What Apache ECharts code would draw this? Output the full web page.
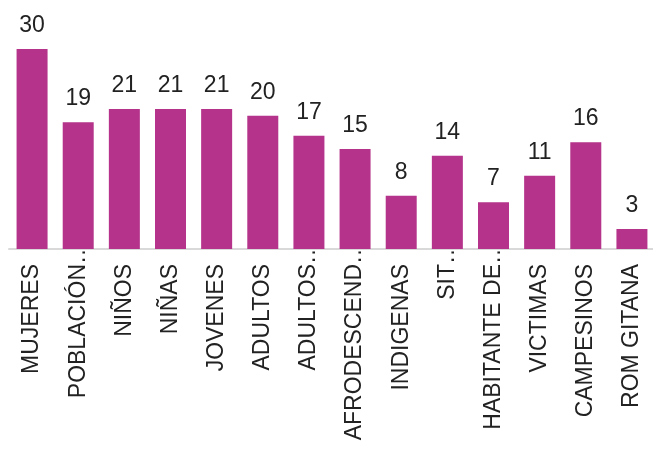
<!DOCTYPE html>
<html>
<head>
<meta charset="utf-8">
<script src="https://cdn.jsdelivr.net/npm/echarts@6/dist/echarts.min.js"></script>
<style>html,body{margin:0;padding:0;background:#fff;overflow:hidden;}#c{width:658px;height:451px;}</style>
</head>
<body>
<div id="c"></div>
<script>
var categories = ["MUJERES","POBLACIÓN…","NIÑOS","NIÑAS","JOVENES","ADULTOS","ADULTOS…","AFRODESCEND…","INDIGENAS","SIT…","HABITANTE DE…","VICTIMAS","CAMPESINOS","ROM GITANA"];
var values = [30,19,21,21,21,20,17,15,8,14,7,11,16,3];

var FONT = "'Liberation Sans', Arial, sans-serif";
var chart = echarts.init(document.getElementById('c'));
chart.setOption({
  animation: false,
  grid: {left: 9, width: 646, top: 49, height: 200, containLabel: false},
  xAxis: {
    type: 'category',
    data: categories,
    axisLine: {show: true, lineStyle: {color: '#d9d9d9', width: 2}},
    axisTick: {show: false},
    axisLabel: {
      rotate: 90,
      interval: 0,
      margin: -8,
      color: '#222222',
      fontFamily: FONT,
      fontSize: 23,
      formatter: function (v) {
        if (v.slice(-1) === '…') return '{t|' + v + '}';
        return '{t|' + v + '}{s|}';
      },
      rich: {
        t: {fontFamily: FONT, fontSize: 23, color: '#222222'},
        s: {width: 23}
      }
    }
  },
  yAxis: {
    type: 'value', min: 0, max: 30, show: false,
    splitLine: {show: false}
  },
  series: [{
    type: 'bar',
    data: values,
    barWidth: 31,
    itemStyle: {color: '#b5338a'},
    label: {
      show: true, position: 'top', distance: 12,
      color: '#222222', fontFamily: FONT, fontSize: 23
    }
  }]
});
</script>
</body>
</html>
